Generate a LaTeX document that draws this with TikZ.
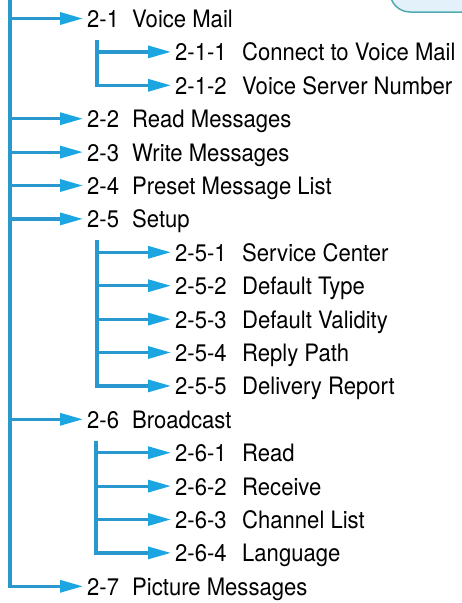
\documentclass[tikz,border=0pt]{standalone}
\usepackage{fontspec}
\setmainfont{TeX Gyre Heros}[FakeStretch=0.92]
\usepackage{xcolor}
\usepackage{tikz}
\usetikzlibrary{arrows.meta, calc}

\definecolor{linkblue}{RGB}{40,152,206}
\definecolor{tipblue}{RGB}{27,166,226}
\definecolor{bubblefill}{RGB}{226,241,250}
\definecolor{bubbleline}{RGB}{80,170,176}

\begin{document}
\begin{tikzpicture}[
        x=1pt, y=-1pt,
        item/.style={anchor=west, inner sep=0pt, text height=18pt, text depth=0pt,
            font=\fontsize{24}{28}\selectfont},
        link/.style={draw=linkblue, line width=3.2pt, shorten >=4pt,
            -{Triangle[length=23pt, width=12pt, color=tipblue]}},
        bubble/.style={draw=bubbleline, fill=bubblefill, line width=1.5pt, rounded corners=20pt}
    ]
        \useasboundingbox (0,0) rectangle (462,603);

        % Bubble cut by the top edge
        \begin{scope}
            \clip (0,0) rectangle (462,603);
            \draw[bubble] (390,-30) rectangle (540,12);
        \end{scope}

        % Menu 2
        \node[item] (m21) at (87,18.5) {\makebox[45pt][l]{2-1}Voice Mail};
        \node[item] (m211) at (175,51.9) {\makebox[67pt][l]{2-1-1}Connect to Voice Mail};
        \node[item] (m212) at (175,85.3) {\makebox[67pt][l]{2-1-2}Voice Server Number};
        \node[item] (m22) at (87,118.7) {\makebox[45pt][l]{2-2}Read Messages};
        \node[item] (m23) at (87,152.1) {\makebox[45pt][l]{2-3}Write Messages};
        \node[item] (m24) at (87,185.5) {\makebox[45pt][l]{2-4}Preset Message List};
        \node[item] (m25) at (87,218.9) {\makebox[45pt][l]{2-5}Setup};
        \node[item] (m251) at (175,252.3) {\makebox[67pt][l]{2-5-1}Service Center};
        \node[item] (m252) at (175,285.7) {\makebox[67pt][l]{2-5-2}Default Type};
        \node[item] (m253) at (175,319.1) {\makebox[67pt][l]{2-5-3}Default Validity};
        \node[item] (m254) at (175,352.5) {\makebox[67pt][l]{2-5-4}Reply Path};
        \node[item] (m255) at (175,385.9) {\makebox[67pt][l]{2-5-5}Delivery Report};
        \node[item] (m26) at (87,419.3) {\makebox[45pt][l]{2-6}Broadcast};
        \node[item] (m261) at (175,452.7) {\makebox[67pt][l]{2-6-1}Read};
        \node[item] (m262) at (175,486.1) {\makebox[67pt][l]{2-6-2}Receive};
        \node[item] (m263) at (175,519.5) {\makebox[67pt][l]{2-6-3}Channel List};
        \node[item] (m264) at (175,552.9) {\makebox[67pt][l]{2-6-4}Language};
        \node[item] (m27) at (87,586.3) {\makebox[45pt][l]{2-7}Picture Messages};

        % Trunk
        \coordinate (trunk) at (10,0);
        \draw[link] (trunk) |- (m27.west);
        \draw[link] (trunk |- m21.west) -- (m21.west);
        \draw[link] (trunk |- m22.west) -- (m22.west);
        \draw[link] (trunk |- m23.west) -- (m23.west);
        \draw[link] (trunk |- m24.west) -- (m24.west);
        \draw[link] (trunk |- m25.west) -- (m25.west);
        \draw[link] (trunk |- m26.west) -- (m26.west);

        % Voice Mail
        \coordinate (s21) at (97,40);
        \draw[link] (s21) |- (m212.west);
        \draw[link] (s21 |- m211.west) -- (m211.west);

        % Setup
        \coordinate (s25) at (97,240);
        \draw[link] (s25) |- (m255.west);
        \draw[link] (s25 |- m251.west) -- (m251.west);
        \draw[link] (s25 |- m252.west) -- (m252.west);
        \draw[link] (s25 |- m253.west) -- (m253.west);
        \draw[link] (s25 |- m254.west) -- (m254.west);

        % Broadcast
        \coordinate (s26) at (96,441);
        \draw[link] (s26) |- (m264.west);
        \draw[link] (s26 |- m261.west) -- (m261.west);
        \draw[link] (s26 |- m262.west) -- (m262.west);
        \draw[link] (s26 |- m263.west) -- (m263.west);

    \end{tikzpicture}
\end{document}
